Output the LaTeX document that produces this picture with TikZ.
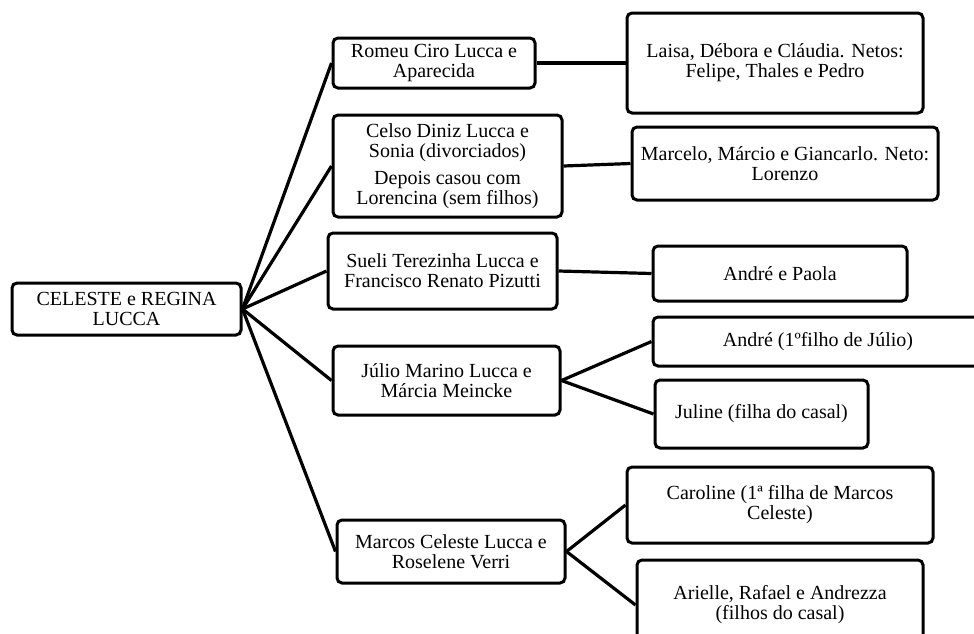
\documentclass[tikz,border=0pt]{standalone}
\usepackage{fontspec}
\setmainfont{Liberation Serif}
\usepackage{tikz}
\usetikzlibrary{positioning}

\begin{document}
\begin{tikzpicture}[x=1pt, y=-1pt,
    membro/.style={draw, line width=3pt, rounded corners=5pt, align=center,
      inner sep=1pt, font=\fontsize{20}{20}\selectfont},
    elo/.style={line width=3.2pt}]
  \useasboundingbox (0,0) rectangle (974,633);
  \clip (0,0) rectangle (974,633);

  % Casal principal
  \node[membro, minimum width=229, minimum height=52] (raiz) at (126.5,309) {CELESTE e REGINA\\LUCCA};

  % Filhos
  \node[membro, minimum width=202, minimum height=50] (romeu) at (434,63) {Romeu Ciro Lucca e\\Aparecida};
  \node[membro, minimum width=229, minimum height=102] (celso) at (447.5,166) {Celso Diniz Lucca e\\Sonia (divorciados)\\[7pt]Depois casou com\\Lorencina (sem filhos)};
  \node[membro, minimum width=229, minimum height=76] (sueli) at (442.5,271) {Sueli Terezinha Lucca e\\Francisco Renato Pizutti};
  \node[membro, minimum width=227, minimum height=69] (julio) at (446.5,380.5) {Júlio Marino Lucca e\\Márcia Meincke};
  \node[membro, minimum width=228, minimum height=63] (marcos) at (451,551.5) {Marcos Celeste Lucca e\\Roselene Verri};

  % Netos
  \node[membro, minimum width=296, minimum height=100] (laisa) at (775,63) {Laisa, Débora e Cláudia. Netos:\\Felipe, Thales e Pedro};
  \node[membro, minimum width=306, minimum height=73] (marcelo) at (785,163.5) {Marcelo, Márcio e Giancarlo. Neto:\\Lorenzo};
  \node[membro, minimum width=254, minimum height=55] (paola) at (780,273.5) {André e Paola};
  \node[membro, minimum width=330, minimum height=49] (andre) at (818,341.5) {André (1ºfilho de Júlio)};
  \node[membro, minimum width=213, minimum height=68] (juline) at (761.5,414) {Juline (filha do casal)};
  \node[membro, minimum width=306, minimum height=76] (caroline) at (780,505) {Caroline (1ª filha de Marcos\\Celeste)};
  \node[membro, minimum width=286, minimum height=90] (arielle) at (780,605) {Arielle, Rafael e Andrezza\\(filhos do casal)};

  % Ligacoes
  \foreach \f in {romeu, celso, sueli, julio, marcos}
    \draw[elo] (raiz.east) -- (\f.west);
  \draw[elo] (romeu.east) -- (laisa.west);
  \draw[elo] (celso.east) -- (marcelo.west);
  \draw[elo] (sueli.east) -- (paola.west);
  \draw[elo] (julio.east) -- (andre.west);
  \draw[elo] (julio.east) -- (juline.west);
  \draw[elo] (marcos.east) -- (caroline.west);
  \draw[elo] (marcos.east) -- (arielle.west);
\end{tikzpicture}
\end{document}
